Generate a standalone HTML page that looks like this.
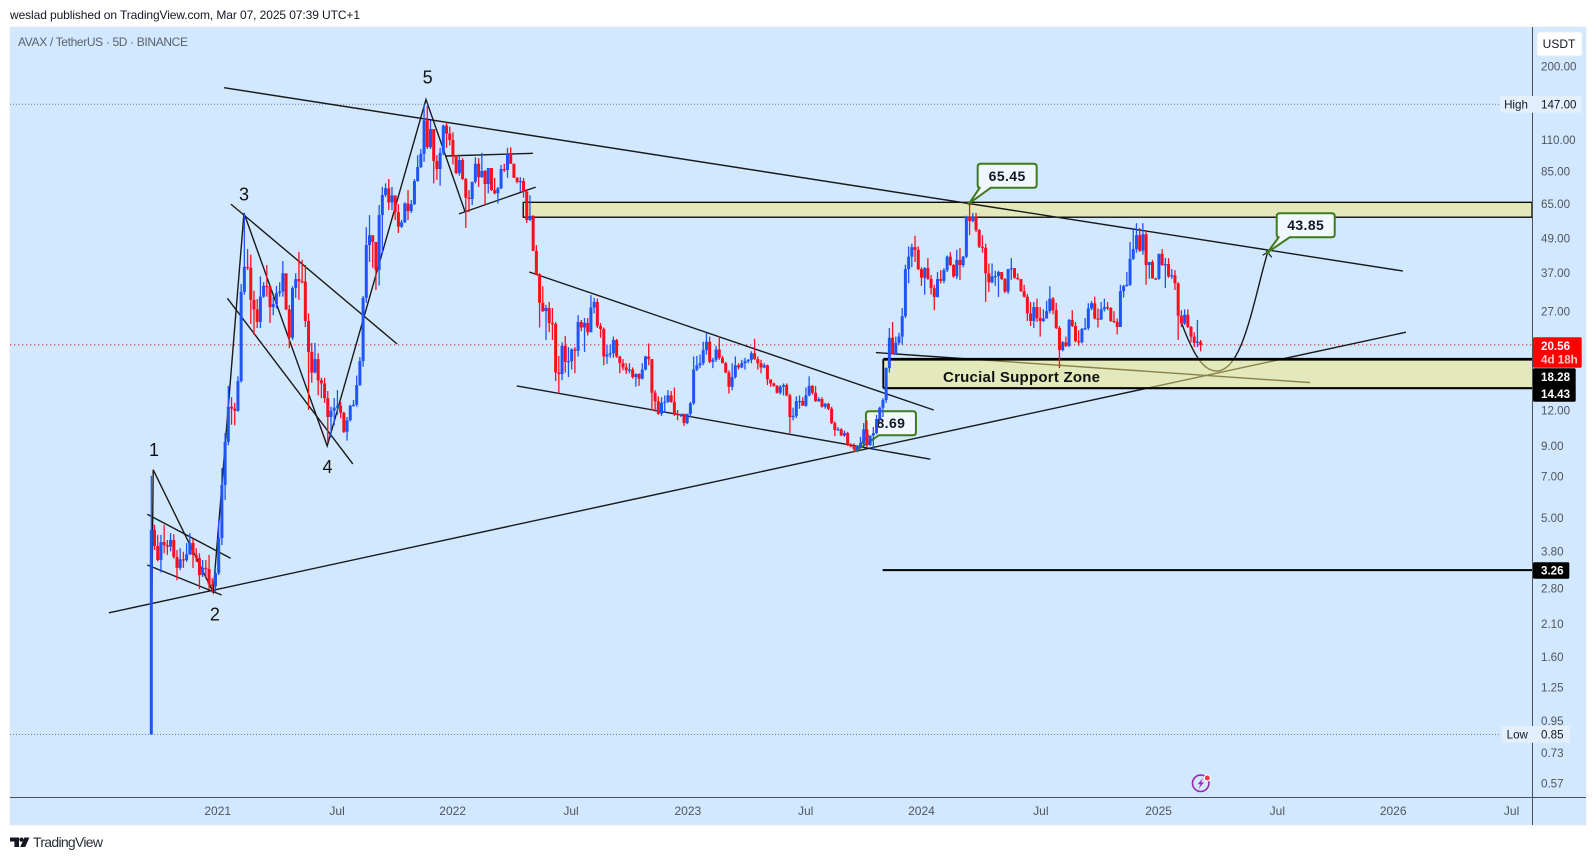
<!DOCTYPE html>
<html lang="en">
<head>
<meta charset="utf-8">
<title>AVAX / TetherUS chart</title>
<style>
html,body{margin:0;padding:0;background:#fff;width:1596px;height:860px;overflow:hidden}
svg{display:block;font-family:"Liberation Sans",Arial,sans-serif}
</style>
</head>
<body>
<svg id="chart" xmlns="http://www.w3.org/2000/svg" width="1596" height="860" viewBox="0 0 1596 860">
  <text x="10" y="19" font-size="12" fill="#131722" textLength="350" lengthAdjust="spacing">weslad published on TradingView.com, Mar 07, 2025 07:39 UTC+1</text>
  <rect x="10" y="27" width="1576" height="798" fill="#d1e8ff" stroke="#e6e9ef" stroke-width="1"/>
  <g id="priceLines"></g>
  <g id="drawings"></g>
  <g id="callouts"></g>
  <g id="candles"></g>
  <text x="18" y="46" font-size="12" fill="#5a616c" textLength="170" lengthAdjust="spacing">AVAX / TetherUS · 5D · BINANCE</text>
  <g id="waveLabels"></g>
  <line x1="1532.5" y1="27" x2="1532.5" y2="825" stroke="#4a4f5a" stroke-width="1"/>
  <line x1="10" y1="797.5" x2="1586" y2="797.5" stroke="#4a4f5a" stroke-width="1"/>
  <g id="priceAxis"></g>
  <g id="timeAxis"></g>
  <rect x="1537" y="32" width="45" height="24" rx="3" fill="#fff" stroke="#e8eef6"/>
  <text x="1559" y="48" font-size="12" text-anchor="middle" fill="#131722">USDT</text>
  <g>
    <circle cx="1200.7" cy="783.3" r="8.2" fill="none" stroke="#9c27b0" stroke-width="1.6"/>
    <path d="M1203.3 777.8 L1197.6 784.2 L1200.6 784.2 L1198.4 789 L1204 782.4 L1201 782.4 Z" fill="#9c27b0"/>
    <circle cx="1207.3" cy="778" r="3.6" fill="#fff"/>
    <circle cx="1207.3" cy="778" r="2.5" fill="#f23645"/>
  </g>
  <g fill="#131722">
    <path d="M10 837.5 H19 V847 H14.4 V841.5 H10 Z"/>
    <circle cx="21.4" cy="839.6" r="2.1"/>
    <path d="M24.4 837.5 H29.4 L25.2 847 H20.2 Z"/>
  </g>
  <text x="33" y="847" font-size="14" fill="#2a2e39" textLength="70" lengthAdjust="spacing">TradingView</text>
</svg>
<script>
/* ---------- chart data ---------- */
const firstOpen = 0.85;
const closes = [
4.53,3.97,3.54,4.1,4.0,3.95,4.17,3.63,3.32,3.56,
3.54,3.71,4.07,3.69,3.6,3.13,3.32,3.29,2.9,2.86,
3.18,4.24,6.54,9.3,12.4,12.2,12.0,15.3,31.7,38.9,
38.6,29.7,27.5,24.8,30.5,33.3,33.2,28,28.7,31.4,
31.8,36.9,27.5,21.8,32.7,35.2,34.6,34.5,25,19.4,
16.4,18.3,15.4,15,13.3,11.4,12,12.3,12.5,11.8,
10.1,11.1,12.5,12.6,14.8,18,30.2,46.5,50.4,47.7,
37.9,59.4,70,74,65.9,69.8,60.9,54,56,65.3,
61.4,65,78.5,88,98,129,103.5,120,92.5,86.6,
98.8,123.5,115.7,109.8,97,83.8,93.2,79.8,68.5,67.8,
78,90.4,81,85.2,76.6,87.3,72.9,71,74,86.6,
85.9,98,90.4,80.6,78,78.5,72,57.1,59,44.3,
36.6,29,27.1,27.8,24.6,24.4,16.4,16.2,20.4,17.9,
18,19.8,19.6,24.8,23.7,24.6,22.8,27.9,29.2,24,
23.4,18.7,19,19.2,21.4,18.7,17.7,17.1,16.7,16.8,
15.8,16.2,15.6,16.8,18.7,18.3,13.9,12.97,11.7,12.8,
12.9,13.6,12.9,11.7,11.6,11.7,10.85,11.7,12.75,16.8,
17.4,17.7,19.7,21.1,17.9,18.2,19.8,18.5,17.7,16.4,
14.6,15.8,17.4,17.1,17.7,18,18.2,19.2,18.3,17.7,
17.1,17.4,15.5,15,14.7,13.9,14.6,14.8,13.6,11.4,
11.5,12.97,13,12.5,13.6,14.7,13.9,12.97,13.2,12.4,
12.7,12.2,10.85,10.25,10.3,9.8,10,9.05,9,8.77,
9,9.2,10.3,9.05,9.8,10,11.2,12.3,13.1,17,
21.8,19.1,20.9,22,26,38.2,42.3,45.7,44.7,38.2,
35.6,38.5,35.3,32.7,30.4,35.2,34.7,37.9,42.3,39.5,
36,41.2,39.5,42.3,58.6,56.6,58.6,52.6,45.9,45.5,
36.9,34.3,36,36.1,37.3,35.2,31.8,38.2,38.5,35.6,
35.2,31.9,30.5,26.6,25,28,25.6,25,25.5,27.1,
30,27.3,23.6,19.7,21,20.4,25.2,24,21.2,21,
23.4,23.6,27.7,28.9,25.5,25.3,27.5,28,27.8,25,
24.8,23.8,31.9,33.3,33.6,41.5,45,50.4,44.4,50.8,
39.5,40.5,35.4,35.3,43.3,39.5,39.8,36,36.3,34,
26.1,24.5,26.3,23.8,22,20.9,21.1,20.56];
const highs = [
7.05,4.72,4.35,4.35,4.72,4.17,4.41,4.37,3.84,3.9,
3.79,4.07,4.41,4.2,3.9,3.74,3.54,3.54,3.69,3.05,
3.32,4.91,7.5,10,14.7,13.4,12.8,15.9,33.8,60.2,
45,43,32,29.9,36,34.3,39.5,33.3,30.5,33.3,
34.3,40.8,36.9,28.5,33.2,36.9,44,41.2,39.5,26.6,
20.9,20.9,19.2,15.7,15.7,14.1,12.4,13.3,14.2,12.9,
11.9,11.4,12.6,13.1,16,18.6,30.7,53.8,59.4,50.4,
47.7,64.5,74.8,77,79.8,74.8,68.9,65,57.1,66,
72.9,67.2,79.8,97,102,147,145,129,120,97,
103,124.5,127,122.5,117,97,97,94.7,80.5,72.9,
78,95.4,94.7,98.8,85.9,87.3,87.3,80.5,74.8,89.5,
90.4,103,103.5,90.4,81,81,80.5,73.5,69.8,59.4,
46.5,37,33.2,28.5,29.2,27.8,24.8,18.8,21,22.1,
20.2,20,20.2,26.2,25.2,25.6,25.6,30.9,30.2,30,
24.6,23.7,20.6,20.6,22,21.6,18.8,18.3,17.7,17.7,
17.1,16.3,16.3,17.7,18.8,20.8,18.3,14.2,13.5,13.4,
13.6,14.2,14.1,14.5,12.07,11.7,11.7,11.7,12.9,18.7,
18.8,19,21.1,22.7,22,18.5,20.4,22,18.8,17.9,
16.7,17.7,18.7,17.7,18.2,18.5,18.3,19.5,21.6,18.7,
18.2,17.7,17.5,15.5,15.1,14.8,14.8,15,15,13.8,
12.3,13.5,13.6,13.4,14.5,15.9,14.8,14.7,13.4,13.4,
12.8,12.8,12.4,11,10.5,10.4,10.2,10.1,9.2,9.2,
9.05,9.7,10.85,11.1,9.8,10.5,11.6,12.4,13.3,17.1,
23.6,24.8,22,22.7,27.8,39.6,46,47,50.2,46,
38.8,38.8,41.8,36.4,33.6,37.3,37.9,38.5,42.7,43.9,
39.8,44.7,45.4,42.5,59.1,65.4,60.5,60.5,53,50.4,
47,40,40,37.7,37.7,37.3,35.5,38.2,41.8,38.5,
36.9,35.2,33.6,31.2,29.2,29.2,30,28,27.5,29.5,
33.2,30.4,29,24,21.2,22,25.4,27.3,24.8,23.2,
23.6,25.6,28.9,29.4,30.5,27.7,29.2,30,29.2,28,
27.1,25.5,33.6,33.6,37.3,47.7,53.5,55.6,53.5,55.6,
52.6,40.5,41.2,35.6,43.3,45,41.8,41.8,38.2,37.9,
34.3,27.3,27.5,27.5,24,22.8,25.2,21.4];
const lows = [
0.85,3.84,3.5,3.2,3.74,3.69,3.8,3.58,3.0,3.26,
3.32,3.49,3.69,3.32,3.48,2.79,3.08,3.08,2.79,2.71,
2.73,3.13,4.0,5.78,9.05,10.7,10.65,11.9,15.1,31,
37.9,24.4,22.3,23.6,23.6,30.2,30.5,24.6,26.2,27.7,
30.5,30.5,27.3,20,21.4,30.2,29.7,34,23.8,12.07,
15.1,16.3,13.6,13.3,12.8,9.3,9.65,10.65,11.6,11.3,
10,9.4,11,12.4,12.4,14.7,17.2,29,40.5,38.6,
32.2,33.4,43.6,68.9,61.9,61.9,57.1,51.3,53.5,55.7,
57.1,60.4,64.5,78,87.3,91.8,102,102,77,79.2,
75.5,97,103,105,90,83,82,79.2,53.5,60.9,
64.5,77,74.8,80.6,64.5,71,72.4,70.4,65.3,73.5,
84.5,80.6,90.4,80.6,77,72,68.5,55.7,56.6,44.3,
36.3,23.7,26.9,21.4,22.8,21.4,15.3,13.8,15.4,16.4,
15.8,16.8,16.3,18.7,23,19.4,22.2,22.8,26.6,23.6,
21.8,17.4,17.6,18.5,18.5,18.5,16.3,16.7,16.2,16.3,
15.6,14.6,14.7,15.5,16.7,17.4,12.07,11.9,11.6,11.5,
11.8,12.8,12.8,11.5,11.1,11.4,10.6,10.75,11.4,12.6,
16.6,17,17.4,19,17.7,17,17.9,18.2,17.7,16.3,
13.8,14.2,15.6,16.8,17,16.8,17.7,17.7,18.2,16.8,
16.3,17,14.8,14.6,14.6,13.8,13.7,13.6,13.5,10,
11.1,11.3,12.2,12.5,12.4,13.5,13.7,12.9,12.9,12.3,
12.2,12.07,10.75,9.75,10.2,9.75,9.7,9,8.9,8.55,
8.6,8.85,8.9,8.9,9,8.7,9.9,11,11.4,12.8,
16.4,19,19,20.6,20.6,25.6,34,38.8,40.5,37.9,
33.3,31,35,31,27.3,30.3,34,34,37.3,39.2,
35.6,35.2,34.9,38.8,41.8,50.4,56,51.7,45.4,43.7,
29.2,31.7,34,33.3,30.4,34.9,31.4,31.2,35,35.3,
34.9,31.7,30.3,25,24,23.6,24.8,22,24.8,25.5,
26.6,26.4,23.4,17,19.5,20.2,20.2,23.8,21,20.4,
20.8,23.2,23.2,27.3,25.3,23.7,25.2,27,27.3,24.8,
24.6,22.4,23.8,30.3,33.1,33.3,41.2,43.7,44,43,
33.6,35.3,35.3,35,35,39.2,32.7,35.6,35.3,32.2,
21.4,23.8,24.2,23.6,21,20.2,20.2,19.5];

const priceTickValues = [200,110,85,65,49,37,27,12,9,7,5,3.8,2.8,2.1,1.6,1.25,0.95,0.73,0.57];
const timeTickLabels = ['2021','Jul','2022','Jul','2023','Jul','2024','Jul','2025','Jul','2026','Jul'];
const timeTickBars = [20.7,57.9,93.9,130.8,167.2,203.9,240,277.2,313.9,350.9,387,423.9];
const highPrice = 147;
const lowPrice = 0.85;
const lastPrice = 20.56;
const zoneTopUpper = 65.96;
const zoneTopLower = 58.4;
const zoneSupportUpper = 18.28;
const zoneSupportLower = 14.43;
const flatLevel = 3.26;
/* trend lines as [bar, price] pairs */
const mainResistance = [[22.65,168.4],[390,37.6]];
const mainSupport = [[-13.2,2.30],[391,22.8]];
const waveCount = [[0.2,2.55],[0.6,7.4],[19.3,2.72],[28.9,60.4],[54.8,9.0],[85.6,153],[97.8,61]];
const flagOneUpper = [[-1.25,5.15],[24.7,3.59]];
const flagOneLower = [[-1.25,3.4],[21.9,2.66]];
const flagThreeUpper = [[24.8,65],[76.6,20.7]];
const flagThreeLower = [[23.7,30.1],[62.8,7.77]];
const pennantUpper = [[91.8,96.3],[118.9,98.5]];
const pennantLower = [[95.9,60],[119.8,74.7]];
const channelUpper = [[117.8,37.3],[243.8,12.07]];
const channelLower = [[113.9,14.7],[242.8,8.07]];
const supportDrift = [[225.8,19.3],[361.1,15.1]];
const forecastCurve = [[321.1,24.5],[325.3,18.2],[328.4,16.6],[332,16.6],[340.2,16.6],[343.4,29.5],[347.9,43.85]];
const zoneUpperStartBar = 115.9;
const zoneSupportStartBar = 228.1;
const flatLevelStartBar = 227.9;
const calloutBars = [254.9,347.9,219.8];
const calloutPrices = [65.45,43.85,8.69];
const waveLabelText = ['1','2','3','4','5'];
const waveLabelBars = [0.85,19.8,28.9,54.9,86.1];
const waveLabelPrices = [8.3,2.16,67,7.2,174];

/* ---------- axes ---------- */
const AXIS_RIGHT = 1532;
function xScale(bar){ return 151.3 + 3.209 * bar; }
function yScale(price){ return 104.3 + 122.3 * Math.log(147 / price); }

const NS = 'http://www.w3.org/2000/svg';
function mk(tag, parent, attrs, text){
  const el = document.createElementNS(NS, tag);
  for (const k in attrs) el.setAttribute(k, attrs[k]);
  if (text !== undefined) el.textContent = text;
  parent.appendChild(el);
  return el;
}
const priceLines = document.getElementById('priceLines');
const drawings = document.getElementById('drawings');
const callouts = document.getElementById('callouts');
const candleGroup = document.getElementById('candles');
const waveGroup = document.getElementById('waveLabels');
const priceAxis = document.getElementById('priceAxis');
const timeAxis = document.getElementById('timeAxis');

/* reference lines */
let el = mk('line', priceLines, {x1:10,x2:1500,y1:yScale(highPrice),y2:yScale(highPrice),stroke:'#787b86','stroke-width':1,'stroke-dasharray':'1 2'});


el = mk('line', priceLines, {x1:10,x2:1501,y1:yScale(lowPrice),y2:yScale(lowPrice),stroke:'#787b86','stroke-width':1,'stroke-dasharray':'1 2'});


el = mk('line', priceLines, {x1:10,x2:AXIS_RIGHT,y1:yScale(lastPrice),y2:yScale(lastPrice),stroke:'#ee1111','stroke-width':1,'stroke-dasharray':'1.3 2.7'});



/* upper resistance zone (under the trend lines) */
const upperZoneX = xScale(zoneUpperStartBar);
const upperTopY = yScale(zoneTopUpper);
const upperBottomY = yScale(zoneTopLower);
el = mk('rect', drawings, {x:upperZoneX,y:upperTopY,width:AXIS_RIGHT-upperZoneX,height:upperBottomY-upperTopY,fill:'#e3e9bb',stroke:'#000','stroke-width':1.3});



/* straight trend lines */
function polyline(points, name){
  const d = points.map(function(p){ return xScale(p[0]).toFixed(1) + ',' + yScale(p[1]).toFixed(1); }).join(' ');
  const line = mk('polyline', drawings, {points:d,fill:'none',stroke:'#1a1a1a','stroke-width':1.4,'stroke-linejoin':'miter'});
  
  
}
polyline(flagOneUpper, 'flag-one-upper-line');
polyline(flagOneLower, 'flag-one-lower-line');
polyline(flagThreeUpper, 'flag-three-upper-line');
polyline(flagThreeLower, 'flag-three-lower-line');
polyline(pennantUpper, 'pennant-upper-line');
polyline(pennantLower, 'pennant-lower-line');
polyline(channelUpper, 'channel-upper-line');
polyline(channelLower, 'channel-lower-line');
polyline(waveCount, 'elliott-wave-line');
polyline(mainResistance, 'main-resistance-line');
polyline(mainSupport, 'main-support-line');
polyline(supportDrift, 'support-drift-line');

/* forecast curve */
const c = forecastCurve.map(function(p){ return xScale(p[0]).toFixed(1) + ' ' + yScale(p[1]).toFixed(1); });
el = mk('path', drawings, {d:'M'+c[0]+' C'+c[1]+' '+c[2]+' '+c[3]+' C'+c[4]+' '+c[5]+' '+c[6],fill:'none',stroke:'#1a1a1a','stroke-width':1.4});


const tipPoint = forecastCurve[forecastCurve.length - 1];
const tipX = xScale(tipPoint[0]);
const tipY = yScale(tipPoint[1]);
el = mk('path', drawings, {d:'M'+(tipX-5)+' '+(tipY+3)+' L'+tipX+' '+tipY+' L'+(tipX+4)+' '+(tipY+5),fill:'none',stroke:'#1a1a1a','stroke-width':1.2});



/* flat level */
el = mk('line', drawings, {x1:xScale(flatLevelStartBar),x2:AXIS_RIGHT,y1:yScale(flatLevel),y2:yScale(flatLevel),stroke:'#000','stroke-width':2});



/* crucial support zone */
const supZoneX = xScale(zoneSupportStartBar);
const supTopY = yScale(zoneSupportUpper);
const supBottomY = yScale(zoneSupportLower);
el = mk('rect', drawings, {x:supZoneX,y:supTopY,width:AXIS_RIGHT-supZoneX,height:supBottomY-supTopY,fill:'rgba(245,234,119,0.5)'});


el = mk('line', drawings, {x1:supZoneX,x2:AXIS_RIGHT,y1:supTopY,y2:supTopY,stroke:'#000','stroke-width':2.8});


el = mk('line', drawings, {x1:supZoneX,x2:AXIS_RIGHT,y1:supBottomY,y2:supBottomY,stroke:'#000','stroke-width':2.2});


el = mk('line', drawings, {x1:supZoneX,x2:supZoneX,y1:supTopY,y2:supBottomY,stroke:'#000','stroke-width':1.8});


el = mk('text', drawings, {x:943,y:382,'font-size':15,'font-weight':'bold',fill:'#111',textLength:157,lengthAdjust:'spacing'}, 'Crucial Support Zone');



/* callouts: box offset relative to the tip */
const calloutBoxDx = [8.4, 9, 9.3];
const calloutBoxW = [59, 58, 50];
const calloutBoxDy = [-39.5, -39, -39];
const calloutNames = ['callout-65-45','callout-43-85','callout-8-69'];
calloutPrices.forEach(function(price, k){
  const tx = xScale(calloutBars[k]);
  const ty = yScale(price);
  const bx = tx + calloutBoxDx[k];
  const by = ty + calloutBoxDy[k];
  const bw = calloutBoxW[k];
  const bh = 24;
  const g = mk('g', callouts, {});
  
  
  const d = 'M'+(bx+3)+' '+by+' H'+(bx+bw-3)+' Q'+(bx+bw)+' '+by+' '+(bx+bw)+' '+(by+3)+' V'+(by+bh-3)+' Q'+(bx+bw)+' '+(by+bh)+' '+(bx+bw-3)+' '+(by+bh)+' H'+(bx+13)+' L'+tx+' '+ty+' L'+(bx+2)+' '+(by+bh)+' Q'+bx+' '+(by+bh)+' '+bx+' '+(by+bh-3)+' V'+(by+3)+' Q'+bx+' '+by+' '+(bx+3)+' '+by+' Z';
  mk('path', g, {d:d,fill:'#f0f7ff',stroke:'#3f7a1c','stroke-width':2,'stroke-linejoin':'round'});
  mk('circle', g, {cx:tx,cy:ty,r:2,fill:'#3f7a1c'});
  mk('text', g, {x:bx+bw/2,y:by+bh/2+5,'font-size':14,'font-weight':'bold','text-anchor':'middle','letter-spacing':'0.4',fill:'#131722'}, price.toFixed(2));
});

/* candles */
closes.forEach(function(close, i){
  const open = i === 0 ? firstOpen : closes[i-1];
  const up = close >= open;
  const color = up ? '#1f55f6' : '#fa0f1c';
  const x = xScale(i);
  const top = yScale(Math.max(open, close));
  const bottom = yScale(Math.min(open, close));
  const g = mk('g', candleGroup, {});
  
  
  mk('line', g, {x1:x,x2:x,y1:yScale(highs[i]),y2:yScale(lows[i]),stroke:color,'stroke-width':1.3});
  mk('rect', g, {x:x-1.5,y:top,width:3,height:Math.max(bottom-top,1.2),fill:color});
});

/* wave labels */
waveLabelText.forEach(function(label, k){
  const t = mk('text', waveGroup, {x:xScale(waveLabelBars[k]),y:yScale(waveLabelPrices[k]),'font-size':18,'text-anchor':'middle',fill:'#111'}, label);
  
  
});

/* price axis */
priceTickValues.forEach(function(v){
  const t = mk('text', priceAxis, {x:1541,y:yScale(v)+4,'font-size':11.6,fill:'#50555f'}, v.toFixed(2));
  
  
});

/* High / Low badges */
el = mk('rect', priceAxis, {x:1500,y:yScale(highPrice)-8.3,width:81.7,height:16.7,fill:'#e3effc'});


el = mk('text', priceAxis, {x:1516,y:yScale(highPrice)+4,'font-size':11.6,'text-anchor':'middle',fill:'#131722'}, 'High');


el = mk('text', priceAxis, {x:1541,y:yScale(highPrice)+4,'font-size':11.6,fill:'#131722'}, highPrice.toFixed(2));


el = mk('rect', priceAxis, {x:1501.7,y:yScale(lowPrice)-8.5,width:68.3,height:16.7,fill:'#e3effc'});


el = mk('text', priceAxis, {x:1517.3,y:yScale(lowPrice)+4,'font-size':11.6,'text-anchor':'middle',fill:'#131722'}, 'Low');


el = mk('text', priceAxis, {x:1541,y:yScale(lowPrice)+4,'font-size':11.6,fill:'#131722'}, lowPrice.toFixed(2));



/* last price tag */
el = mk('rect', priceAxis, {x:1533,y:337.3,width:48.7,height:30.4,rx:1.5,fill:'#ff0000'});


el = mk('text', priceAxis, {x:1541,y:349.8,'font-size':11.6,'font-weight':'bold',fill:'#fff'}, lastPrice.toFixed(2));


el = mk('text', priceAxis, {x:1541,y:363.4,'font-size':11.6,'font-weight':'bold',fill:'#ffc9c9'}, '4d 18h');



/* black level tags */
el = mk('rect', priceAxis, {x:1533,y:368.3,width:42.7,height:33.4,rx:1.5,fill:'#000'});


el = mk('text', priceAxis, {x:1541,y:380.8,'font-size':11.6,'font-weight':'bold',fill:'#fff'}, zoneSupportUpper.toFixed(2));


el = mk('text', priceAxis, {x:1541,y:398,'font-size':11.6,'font-weight':'bold',fill:'#fff'}, zoneSupportLower.toFixed(2));


el = mk('rect', priceAxis, {x:1533,y:yScale(flatLevel)-7.8,width:36.3,height:16.4,rx:1.5,fill:'#000'});


el = mk('text', priceAxis, {x:1541,y:yScale(flatLevel)+4.6,'font-size':11.6,'font-weight':'bold',fill:'#fff'}, flatLevel.toFixed(2));



/* time axis */
timeTickLabels.forEach(function(label, k){
  const t = mk('text', timeAxis, {x:xScale(timeTickBars[k]),y:815,'font-size':12,'text-anchor':'middle',fill:'#50555f'}, label);
  
  
});
</script>
</body>
</html>
